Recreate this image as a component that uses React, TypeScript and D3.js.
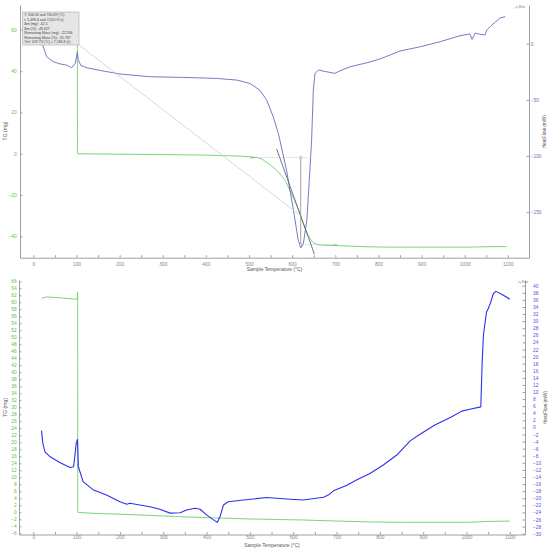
"use client";

import * as d3 from "d3";
import { useEffect, useRef } from "react";

type Pt = [number, number];

const FONT = "'Liberation Sans', Arial, sans-serif";
const AXIS = "#a0a0a0";
const GREEN = "#78d878";

const tempLabels = [0, 100, 200, 300, 400, 500, 600, 700, 800, 900, 1000, 1100];
const tempTicks = d3.range(0, 1101, 50);

const topTgLabels = [-40, -20, 0, 20, 40, 60];
const topHfLabels = [-150, -100, -50, 0];
const bottomTgLabels = d3.range(-6, 67, 2);
const bottomHfLabels = d3.range(-30, 41, 2);

// top run: TG (mg) against sample temperature (°C)
const topMass: Pt[] = [
    [20, 61.8], [60, 61.6], [101, 61.4], [102, 63.0], [102.3, 0.3], [103, 0],
    [150, -0.1], [200, -0.2], [300, -0.4], [386, -0.6], [456, -1.0], [502, -1.45],
    [525, -2.2], [541, -4.2], [556, -6.5], [572, -9.8], [585, -13.5], [595, -17.9],
    [607, -23.2], [619.7, -30.0], [626, -33.8], [634, -38.0], [642, -41.2], [649, -43.0],
    [657, -43.8], [665, -44.1], [680, -44.3], [696, -44.4], [773, -45.0], [850, -45.2],
    [1000, -45.2], [1050, -45.0], [1097, -44.9],
];

// top run: heat flow (mW)
const topFlow: Pt[] = [
    [20, 3], [22, -1.8], [31, -11.6], [46, -16], [62, -18], [77, -19], [89, -21.4],
    [97, -17.5], [102, -7.3], [104, -14], [110, -19.5], [125, -21.5], [155, -23.8],
    [201, -27], [271, -29.4], [348, -30], [425, -30.9], [472, -32.4], [502, -35.4],
    [525, -41.3], [541, -50.3], [556, -65], [568, -80], [587, -112.8], [603, -148.5],
    [614, -175], [620, -181.8], [626, -178], [634, -157], [641, -112.8], [645, -86],
    [649, -41.3], [653, -26.4], [661, -23.5], [680, -25], [699, -26.4], [711, -24.1],
    [734, -20.5], [773, -17], [804, -13.5], [827, -10], [850, -6.5], [897, -2.7],
    [943, 1.8], [989, 7.1], [1012, 8.7], [1017, 3.9], [1024, 9.3], [1035, 8.5],
    [1047, 7.8], [1051, 12.2], [1063, 16.7], [1071, 19.4], [1082, 23], [1094, 24.1],
];

// bottom run
const bottomMass: Pt[] = [
    [19, 61.1], [30, 61.5], [60, 61.3], [101, 60.9], [102.3, 63.0], [102.6, 0.2], [103, 0],
    [200, -0.55], [339, -1.25], [500, -1.9], [623, -2.2], [700, -2.5], [847, -2.85],
    [1000, -2.85], [1050, -2.6], [1100, -2.5],
];

const bottomFlow: Pt[] = [
    [19, -0.9], [22, -4.5], [27, -6.9], [39, -8.3], [62, -10], [85, -11.3], [93, -11.1],
    [96, -8], [99, -4.5], [102, -3.4], [104, -11.1], [115, -15.3], [139, -17.7],
    [169, -19.1], [200, -21], [216, -21.7], [223, -21.4], [246, -21.9], [269, -22.4],
    [292, -23.1], [316, -24.2], [339, -24.1], [354, -23.3], [373, -22.8], [385, -23.1],
    [400, -24.7], [416, -26.1], [425, -26.8], [431, -25.2], [439, -21.9], [450, -21],
    [485, -20.5], [539, -19.8], [585, -20.2], [623, -20.5], [670, -19.7], [681, -19.1],
    [693, -17.9], [724, -16.3], [747, -14.8], [777, -13], [808, -10.6], [839, -7.8],
    [870, -3.8], [889, -2.2], [927, 0.7], [966, 3.0], [989, 4.6], [1010, 5.2],
    [1033, 5.8], [1036, 18], [1039, 26], [1046, 32.5], [1050, 33.5], [1055, 35],
    [1062, 37.8], [1068, 38.4], [1082, 37.5], [1100, 36.2],
];

// step analysis on the top run
const onsetTemps = [506.34, 700.69];
const inflection: Pt = [619.73, -30];
const tangent: Pt[] = [[564, 2.3], [651.5, -48.6]];
const upperGuide: Pt[] = [[506.34, -1.8], [635, -1.8]];
const lowerGuide: Pt[] = [[619.73, -44], [700.69, -44]];
const noteLines = [
    "T: 506.34 and 700.69 (°C)",
    "t: 5,496.6 and 7,055.9 (s)",
    "Δm (mg): -42.5",
    "Δm (%): -48.627",
    "Remaining Mass (mg): -22.536",
    "Remaining Mass (%): -25.787",
    "Tinf: 619.73 (°C), t 7,184.8 (s)",
];

const topPanel = {
    left: 20, right: 529, top: 5, bottom: 257.7,
    tempDomain: [-31, 1149], tgDomain: [-50.3, 72], hfDomain: [-190.6, 34.5],
    tgTicks: topTgLabels, hfTicks: topHfLabels,
    xPad: 4.6, leftPad: 3.3, rightPad: 1.7, hfColor: "#7070b0",
    titleY: 270.6, tgTitle: [5.3, 131], hfTitle: [544.3, 131.7], exo: [515, 5.5],
    flowColor: "#6a6ac4", flowWidth: 0.9,
};

const bottomPanel = {
    left: 19, right: 525, top: 280, bottom: 534.5,
    tempDomain: [-33, 1135], tgDomain: [-6.34, 66.37], hfDomain: [-30.23, 41.61],
    tgTicks: bottomTgLabels, hfTicks: bottomHfLabels,
    xPad: 1.5, leftPad: 2.3, rightPad: 8, hfColor: "#5050e0",
    titleY: 546.8, tgTitle: [5.5, 407.5], hfTitle: [545, 407.5], exo: [518, 280.5],
    flowColor: "#2f2ff0", flowWidth: 1.1,
};

function styleAxis(sel: any, color: string, size: number) {
    sel.attr("font-family", FONT).attr("font-size", size);
    sel.select(".domain").attr("stroke", AXIS);
    sel.selectAll(".tick line").attr("stroke", AXIS);
    sel.selectAll(".tick text").attr("fill", color);
}

function drawPanel(svg: any, p: typeof topPanel, mass: Pt[], flow: Pt[]) {
    const x = d3.scaleLinear().domain(p.tempDomain).range([p.left, p.right]);
    const yTg = d3.scaleLinear().domain(p.tgDomain).range([p.bottom, p.top]);
    const yHf = d3.scaleLinear().domain(p.hfDomain).range([p.bottom, p.top]);
    const g = svg.append("g");

    // Axes (ticks point into the plot)
    g.append("g")
        .attr("transform", `translate(0,${p.bottom})`)
        .call(d3.axisBottom(x).tickValues(tempTicks).tickSize(-2.5).tickSizeOuter(0)
            .tickPadding(p.xPad)
            .tickFormat((d: any) => (tempLabels.includes(d) ? String(d) : "")))
        .call((s: any) => styleAxis(s, "#888", 4.9));

    g.append("g")
        .attr("transform", `translate(${p.left},0)`)
        .call(d3.axisLeft(yTg).tickValues(p.tgTicks).tickSize(-2.5).tickSizeOuter(0)
            .tickPadding(p.leftPad))
        .call((s: any) => styleAxis(s, "#55c055", 4.8));

    g.append("g")
        .attr("transform", `translate(${p.right},0)`)
        .call(d3.axisRight(yHf).tickValues(p.hfTicks).tickSize(-2.5).tickSizeOuter(0)
            .tickPadding(p.rightPad))
        .call((s: any) => styleAxis(s, p.hfColor, 4.8));

    // Titles
    g.append("text")
        .attr("x", (p.left + p.right) / 2).attr("y", p.titleY)
        .attr("text-anchor", "middle").attr("font-family", FONT).attr("font-size", 4.9)
        .attr("fill", "#555").text("Sample Temperature (°C)");
    g.append("text")
        .attr("transform", `translate(${p.tgTitle[0]},${p.tgTitle[1]}) rotate(-90)`)
        .attr("dy", "0.35em").attr("text-anchor", "middle")
        .attr("font-family", FONT).attr("font-size", 5.1).attr("fill", "#555")
        .text("TG (mg)");
    g.append("text")
        .attr("transform", `translate(${p.hfTitle[0]},${p.hfTitle[1]}) rotate(-90)`)
        .attr("dy", "0.35em").attr("text-anchor", "middle")
        .attr("font-family", FONT).attr("font-size", 4.8).attr("fill", "#555")
        .text("HeatFlow (mW)");

    // Exo marker
    const [ex, ey] = p.exo;
    g.append("path")
        .attr("d", `M${ex},${ey + 3} L${ex + 1.6},${ey + 0.8} L${ex + 3.2},${ey + 3}`)
        .attr("fill", "none").attr("stroke", "#777").attr("stroke-width", 0.5);
    g.append("text")
        .attr("x", ex + 4).attr("y", ey + 2.6)
        .attr("font-family", FONT).attr("font-size", 3.4).attr("fill", "#777")
        .text("Exo");

    // Curves
    const tgLine = d3.line<Pt>().x((d) => x(d[0])).y((d) => yTg(d[1])).curve(d3.curveMonotoneX);
    const hfLine = d3.line<Pt>().x((d) => x(d[0])).y((d) => yHf(d[1])).curve(d3.curveLinear);

    g.append("path").attr("d", tgLine(mass)).attr("fill", "none")
        .attr("stroke", GREEN).attr("stroke-width", 1);
    g.append("path").attr("d", hfLine(flow)).attr("fill", "none")
        .attr("stroke", p.flowColor).attr("stroke-width", p.flowWidth)
        .attr("stroke-linejoin", "round");

    return { g, x, yTg };
}

function drawAnalysis(g: any, x: any, y: any) {
    const line = d3.line<Pt>().x((d) => x(d[0])).y((d) => y(d[1]));
    const box = { x: 22.7, y: 12, w: 56.3, h: 33 };

    // leader from the note to the inflection point
    g.append("path").attr("d", line([[x.invert(box.x + box.w), y.invert(box.y + box.h)], inflection]))
        .attr("stroke", "#cfcfcf").attr("stroke-width", 0.8).attr("fill", "none");

    g.append("path").attr("d", line(upperGuide)).attr("stroke", "#aaa")
        .attr("stroke-width", 0.6).attr("stroke-dasharray", "1,1").attr("fill", "none");
    g.append("path").attr("d", line(lowerGuide)).attr("stroke", "#aaa")
        .attr("stroke-width", 0.6).attr("stroke-dasharray", "1,1").attr("fill", "none");

    g.append("path").attr("d", line(tangent)).attr("stroke", "#555")
        .attr("stroke-width", 0.8).attr("fill", "none");

    const arrow: Pt[] = [[inflection[0], upperGuide[0][1]], [inflection[0], lowerGuide[0][1]]];
    g.append("path").attr("d", line(arrow)).attr("stroke", "#999")
        .attr("stroke-width", 0.9).attr("fill", "none");
    g.selectAll("circle.end").data(arrow).join("circle")
        .attr("cx", (d: Pt) => x(d[0])).attr("cy", (d: Pt) => y(d[1])).attr("r", 1.2)
        .attr("fill", "#fff").attr("stroke", "#777").attr("stroke-width", 0.5);

    g.selectAll("text.onset").data(onsetTemps).join("text")
        .attr("x", (d: number) => x(d))
        .attr("y", (d: number, i: number) => y(i === 0 ? upperGuide[0][1] : lowerGuide[0][1]) + 1.2)
        .attr("text-anchor", "middle").attr("font-family", FONT).attr("font-size", 3.6)
        .attr("fill", "#777").text("><");

    // note box
    g.append("rect").attr("x", box.x).attr("y", box.y).attr("width", box.w).attr("height", box.h)
        .attr("fill", "#e6e6e6").attr("stroke", "#a8a8a8").attr("stroke-width", 0.6);
    g.selectAll("text.note").data(noteLines).join("text")
        .attr("x", box.x + 1.6).attr("y", (_: string, i: number) => box.y + 4.4 + i * 4.5)
        .attr("font-family", FONT).attr("font-size", 3.5).attr("fill", "#444")
        .text((d: string) => d);
}

export default function App() {
    const ref = useRef<SVGSVGElement | null>(null);

    useEffect(() => {
        if (!ref.current) return;
        const svg = d3.select(ref.current);
        svg.selectAll("*").remove();

        const top = drawPanel(svg, topPanel, topMass, topFlow);
        drawAnalysis(top.g, top.x, top.yTg);
        drawPanel(svg, bottomPanel, bottomMass, bottomFlow);
    }, []);

    return (
        <svg
            ref={ref}
            width={550}
            height={549}
            style={{ position: "absolute", left: 0, top: 0, background: "#fff" }}
        />
    );
}
